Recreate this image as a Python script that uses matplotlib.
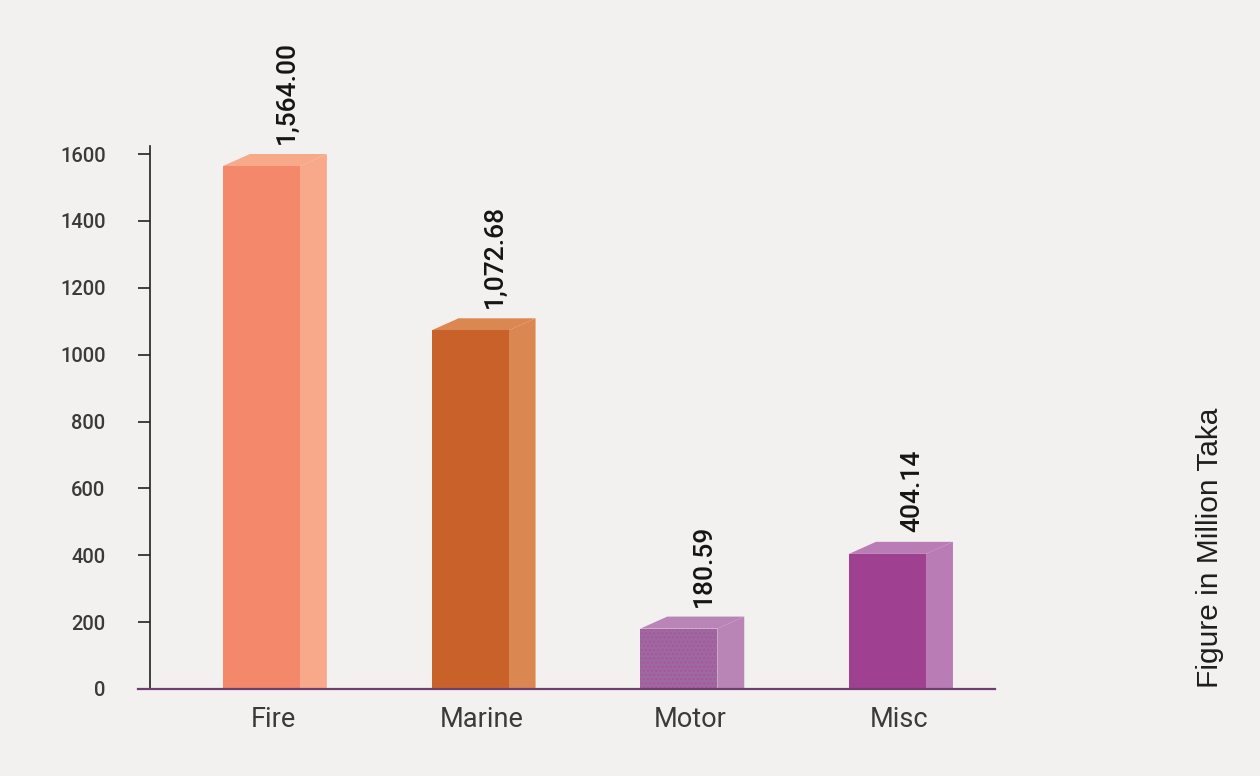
import matplotlib
matplotlib.use("Agg")
import matplotlib.pyplot as plt
from matplotlib.patches import Polygon
from matplotlib.transforms import blended_transform_factory

# Claims / premium by class of business (million Taka)
categories = ["Fire", "Marine", "Motor", "Misc"]
values = [1564.00, 1072.68, 180.59, 404.14]
value_labels = ["1,564.00", "1,072.68", "180.59", "404.14"]
yticks = [0, 200, 400, 600, 800, 1000, 1200, 1400, 1600]

front_colors = ["#F4886A", "#C8622A", "#9C6A9C", "#A04090"]
side_colors = ["#F7A98A", "#DA8752", "#B985B6", "#B97CB5"]

BG = "#F2F1EF"
W, H = 1260, 776
fig = plt.figure(figsize=(W / 100, H / 100), dpi=100, facecolor=BG)

# axes placed in pixel terms
left, right, bottom, top = 150, 995, 689, 146
ax = fig.add_axes([left / W, (H - bottom) / H, (right - left) / W, (bottom - top) / H])
ax.set_facecolor(BG)

bar_w = 0.369      # front face width
dx = 0.129         # depth, horizontal
dy = 36            # depth, vertical (data units)

for i, (v, fc, sc) in enumerate(zip(values, front_colors, side_colors)):
    x0 = i - bar_w / 2
    x1 = i + bar_w / 2
    # side face
    ax.add_patch(Polygon([(x1, 0), (x1 + dx, 0), (x1 + dx, v + dy), (x1, v)],
                         closed=True, facecolor=sc, edgecolor="none", zorder=2))
    # top face
    ax.add_patch(Polygon([(x0, v), (x1, v), (x1 + dx, v + dy), (x0 + dx, v + dy)],
                         closed=True, facecolor=sc, edgecolor="none", zorder=2))
    # front face
    hatch = "...." if categories[i] == "Motor" else None
    ax.bar(i, v, width=bar_w, color=fc, edgecolor="#B04FA8" if hatch else "none",
           linewidth=0, hatch=hatch, zorder=3)
    ax.text(i + 0.12, v + dy + 30, value_labels[i], rotation=90, ha="center",
            va="bottom", fontsize=19, family="Roboto", weight="medium",
            color="#151515")

ax.set_xlim(-0.534, 3.515)
ax.set_ylim(0, 1624)

ax.set_yticks(yticks)
ax.set_yticklabels([str(t) for t in yticks], family="Roboto", fontsize=14.5,
                   weight="medium", color="#3A3A3A")
ax.tick_params(axis="y", length=9, width=1.2, color="#222222", pad=23)

ax.set_xticks([i + 0.056 for i in range(len(categories))])
ax.set_xticklabels(categories, family="Roboto", fontsize=19.5, color="#3A3A3A")
ax.tick_params(axis="x", length=0, pad=12)

for s in ["top", "right", "bottom"]:
    ax.spines[s].set_visible(False)
ax.spines["left"].set_color("#222222")
ax.spines["left"].set_linewidth(1.2)

# purple baseline extending slightly past the y axis
tr = blended_transform_factory(ax.transAxes, ax.transData)
ax.plot([-12 / (right - left), 1.0], [0, 0], transform=tr, color="#6E3F6E",
        linewidth=1.6, clip_on=False, zorder=5)

fig.text(1210 / W, (H - 688) / H, "Figure in Million Taka", rotation=90,
         ha="center", va="bottom", fontsize=21.5, family="Liberation Sans",
         color="#1E1E1E")

fig.savefig("out.png", dpi=100, facecolor=BG)
